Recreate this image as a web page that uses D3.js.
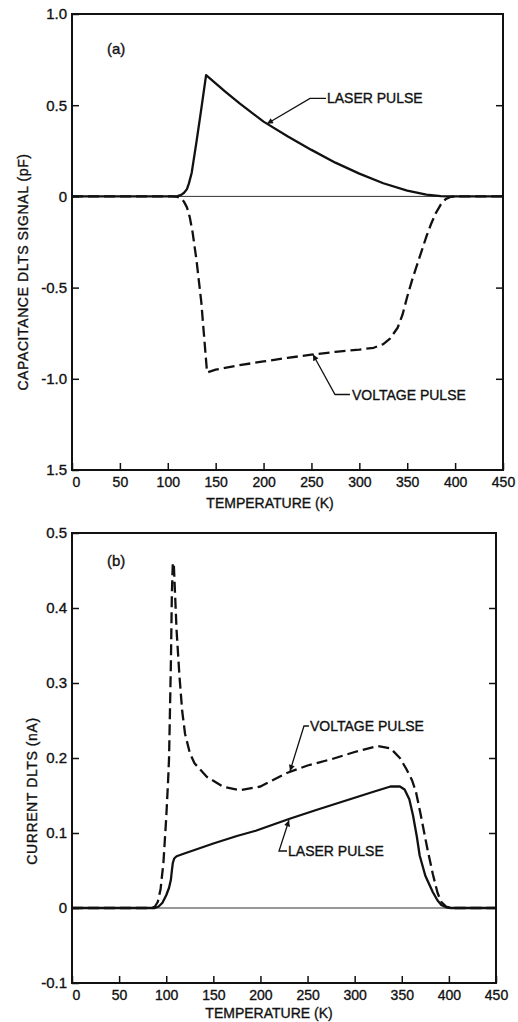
<!DOCTYPE html>
<html>
<head>
<meta charset="utf-8">
<script src="https://cdn.jsdelivr.net/npm/d3@7"></script>
<style>
  body { margin: 0; background: #fff; }
  text { font-family: "Liberation Sans", Arial, sans-serif; fill: #111; stroke: #111; stroke-width: 0.35px; }
</style>
</head>
<body>
<script>
// ---- data ----
const xTicks = [0, 50, 100, 150, 200, 250, 300, 350, 400, 450]

// (a) capacitance DLTS
const capTicks = [1.0, 0.5, 0, -0.5, -1.0, -1.5]
const capTickLabels = ["1.0", "0.5", "0", "-0.5", "-1.0", "1.5"]
const capRightTicks = [0.5, -0.5, -1.0]

const capLaserT = [0, 105, 110, 114, 117, 120, 122, 125, 130, 135, 140, 150, 160, 175, 190, 200, 225, 250, 275, 300, 325, 350, 370, 385, 395, 450]
const capLaserV = [0, 0, 0.002, 0.008, 0.02, 0.04, 0.07, 0.13, 0.30, 0.48, 0.665, 0.62, 0.575, 0.51, 0.45, 0.41, 0.33, 0.255, 0.185, 0.125, 0.072, 0.032, 0.01, 0.002, 0, 0]

const capVoltT = [0, 105, 110, 114, 117, 120, 123, 126, 130, 135, 141, 150, 175, 200, 225, 250, 275, 300, 315, 325, 332, 340, 345, 350, 355, 360, 365, 370, 375, 380, 385, 390, 395, 400, 450]
const capVoltV = [0, 0, -0.003, -0.01, -0.03, -0.06, -0.115, -0.2, -0.35, -0.58, -0.965, -0.95, -0.925, -0.905, -0.885, -0.868, -0.852, -0.84, -0.83, -0.81, -0.78, -0.72, -0.65, -0.55, -0.46, -0.38, -0.3, -0.22, -0.15, -0.09, -0.045, -0.015, -0.003, 0, 0]

// (b) current DLTS
const curTicks = [0.5, 0.4, 0.3, 0.2, 0.1, 0, -0.1]
const curTickLabels = ["0.5", "0.4", "0.3", "0.2", "0.1", "0", "-0.1"]
const curRightTicks = [0.4, 0.3, 0.2, 0.1]

const curVoltT = [0, 85, 88, 91, 94, 97, 100, 102, 103, 105, 106, 107, 108, 109, 111, 114, 117, 120, 125, 130, 143, 160, 178, 200, 228, 250, 277, 300, 324, 338, 348, 355, 361, 365, 370, 377, 383, 388, 392, 397, 402, 450]
const curVoltV = [0, 0, 0.002, 0.008, 0.025, 0.06, 0.12, 0.17, 0.2, 0.33, 0.42, 0.46, 0.46, 0.43, 0.37, 0.31, 0.262, 0.232, 0.207, 0.193, 0.175, 0.162, 0.157, 0.162, 0.18, 0.19, 0.199, 0.208, 0.216, 0.213, 0.2, 0.185, 0.17, 0.155, 0.125, 0.08, 0.045, 0.02, 0.008, 0.002, 0, 0]

const curLaserT = [0, 88, 92, 96, 100, 103, 105, 106, 107, 108.5, 111, 120, 150, 175, 195, 231, 260, 295, 320, 338, 348, 353, 358, 362, 366, 369, 375, 383, 388, 392, 397, 402, 450]
const curLaserV = [0, 0, 0.002, 0.007, 0.017, 0.027, 0.038, 0.05, 0.06, 0.066, 0.069, 0.073, 0.086, 0.096, 0.103, 0.119, 0.131, 0.145, 0.155, 0.162, 0.162, 0.158, 0.145, 0.123, 0.095, 0.07, 0.043, 0.021, 0.01, 0.004, 0.001, 0, 0]

const W = 518, H = 1022

let svg = d3.select("body").append("svg")
    .attr("width", W)
    .attr("height", H)

svg.append("defs").append("marker")
    .attr("id", "arrow")
    .attr("viewBox", "0 0 10 10")
    .attr("refX", 10)
    .attr("refY", 5)
    .attr("markerUnits", "userSpaceOnUse")
    .attr("markerWidth", 9)
    .attr("markerHeight", 6)
    .attr("orient", "auto")
    .append("path")
    .attr("d", "M0,0L10,5L0,10z")
    .attr("fill", "#111")

function zip(ts, vs) {
    return ts.map((t, i) => [t, vs[i]])
}

function drawPanel(p) {
    let x = d3.scaleLinear().domain([0, 450]).range([p.left, p.right])
    let y = d3.scaleLinear().domain(p.yDomain).range([p.bottom, p.top])
    let g = svg.append("g")

    // zero line
    g.append("line")
        .attr("x1", p.left).attr("x2", p.right)
        .attr("y1", y(0)).attr("y2", y(0))
        .attr("stroke", "#333")
        .attr("stroke-width", 1)

    // bottom axis, ticks point inward
    let xa = g.append("g")
        .attr("transform", "translate(0," + p.bottom + ")")
        .call(d3.axisBottom(x).tickValues(xTicks).tickSize(-7).tickPadding(7).tickFormat(d3.format("d")))
    xa.selectAll("text").attr("dx", d => d === 0 ? 4 : 0).style("font-size", "14px")

    // left axis
    let ya = g.append("g")
        .attr("transform", "translate(" + p.left + ",0)")
        .call(d3.axisLeft(y).tickValues(p.yTicks).tickSize(-7).tickPadding(5)
            .tickFormat((d, i) => p.yLabels[i]))
    ya.selectAll("text").style("font-size", "15px")

    // right axis ticks only
    g.append("g")
        .attr("transform", "translate(" + p.right + ",0)")
        .call(d3.axisRight(y).tickValues(p.rightTicks).tickSize(-7).tickFormat(""))

    g.selectAll(".domain").remove()
    g.selectAll(".tick line").attr("stroke", "#111").attr("stroke-width", 1.5)
    g.selectAll(".tick text")
        .style("font-family", "'Liberation Sans', Arial, sans-serif")
        .attr("fill", "#111")

    // frame
    g.append("rect")
        .attr("x", p.left).attr("y", p.top)
        .attr("width", p.right - p.left).attr("height", p.bottom - p.top)
        .attr("fill", "none")
        .attr("stroke", "#111")
        .attr("stroke-width", 2)

    let line = d3.line()
        .x(d => x(d[0]))
        .y(d => y(d[1]))
        .curve(d3.curveLinear)

    p.series.forEach(s => {
        g.append("path")
            .datum(zip(s.t, s.v))
            .attr("d", line)
            .attr("fill", "none")
            .attr("stroke", "#111")
            .attr("stroke-width", 2.3)
            .attr("stroke-linejoin", "round")
            .attr("stroke-dasharray", s.dashed ? "11,5" : null)
    })

    // leader lines + labels
    p.notes.forEach(n => {
        g.append("path")
            .attr("d", d3.line()(n.leader.map(d => [x(d[0]), y(d[1])])))
            .attr("fill", "none")
            .attr("stroke", "#111")
            .attr("stroke-width", 1.3)
            .attr("marker-end", "url(#arrow)")
        g.append("text")
            .attr("x", x(n.at[0]))
            .attr("y", y(n.at[1]))
            .attr("dy", "0.36em")
            .style("font-size", "14px")
            .text(n.text)
    })

    g.append("text")
        .attr("x", x(p.tag.at[0]))
        .attr("y", y(p.tag.at[1]))
        .attr("dy", "0.36em")
        .style("font-size", "15px")
        .text(p.tag.text)

    // axis titles
    g.append("text")
        .attr("x", p.xTitlePos[0])
        .attr("y", p.xTitlePos[1])
        .attr("dy", "0.36em")
        .attr("text-anchor", "middle")
        .style("font-size", "14px")
        .text("TEMPERATURE (K)")

    g.append("text")
        .attr("transform", "translate(" + p.yTitlePos[0] + "," + p.yTitlePos[1] + ") rotate(-90)")
        .attr("dy", "0.36em")
        .attr("text-anchor", "middle")
        .style("font-size", "14px")
        .style("letter-spacing", "0.6px")
        .text(p.yTitle)
}

drawPanel({
    left: 72, right: 503, top: 14, bottom: 470,
    yDomain: [-1.5, 1.0],
    yTicks: capTicks, yLabels: capTickLabels, rightTicks: capRightTicks,
    series: [
        {t: capLaserT, v: capLaserV, dashed: false},
        {t: capVoltT, v: capVoltV, dashed: true}
    ],
    notes: [
        {text: "LASER PULSE", at: [266.2, 0.537], leader: [[265.2, 0.537], [248.5, 0.537], [203.6, 0.398]]},
        {text: "VOLTAGE PULSE", at: [292.3, -1.086], leader: [[290.2, -1.086], [274.6, -1.086], [251.6, -0.867]]}
    ],
    tag: {text: "(a)", at: [36.5, 0.81]},
    xTitlePos: [270, 503],
    yTitle: "CAPACITANCE DLTS SIGNAL (pF)",
    yTitlePos: [23, 272]
})

drawPanel({
    left: 72, right: 496, top: 533, bottom: 983,
    yDomain: [-0.1, 0.5],
    yTicks: curTicks, yLabels: curTickLabels, rightTicks: curRightTicks,
    series: [
        {t: curLaserT, v: curLaserV, dashed: false},
        {t: curVoltT, v: curVoltV, dashed: true}
    ],
    notes: [
        {text: "VOLTAGE PULSE", at: [252.6, 0.2427], leader: [[251.5, 0.2427], [246.2, 0.2427], [231.4, 0.1827]]},
        {text: "LASER PULSE", at: [229.3, 0.076], leader: [[228.2, 0.076], [219.7, 0.076], [230.3, 0.117]]}
    ],
    tag: {text: "(b)", at: [37.1, 0.463]},
    xTitlePos: [269, 1013],
    yTitle: "CURRENT DLTS (nA)",
    yTitlePos: [32, 791]
})
</script>
</body>
</html>
